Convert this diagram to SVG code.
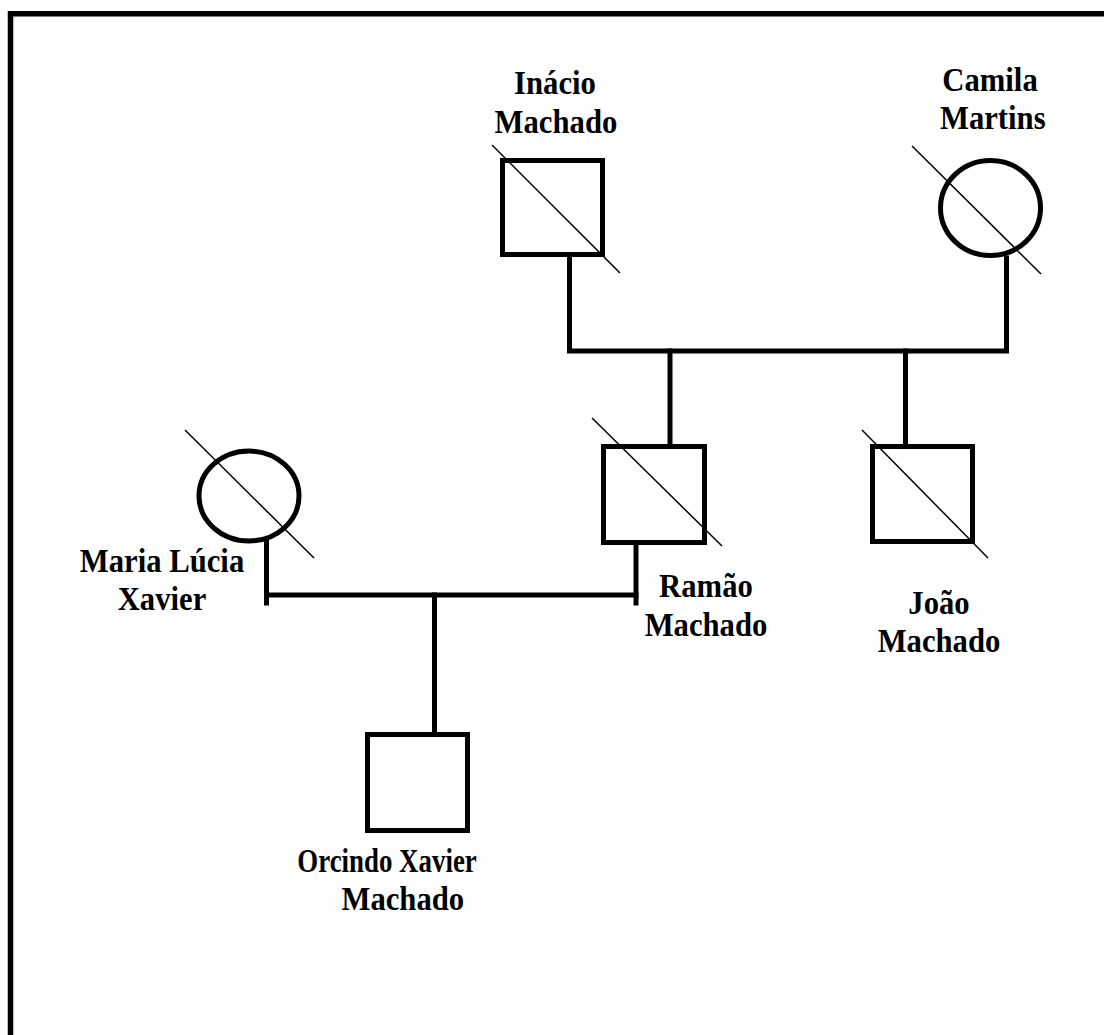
<svg xmlns="http://www.w3.org/2000/svg" width="1104" height="1035" viewBox="0 0 1104 1035">
  <style>
    .sym { fill: #fff; stroke: #000; stroke-width: 5; }
    .slash { stroke: #000; stroke-width: 1.5; }
    .link { fill: none; stroke: #000; stroke-width: 5; stroke-linecap: square; }
    .label { font-family: "Liberation Serif", "Times New Roman", serif; font-weight: bold; font-size: 33px; fill: #000; text-anchor: middle; }
  </style>
  <rect width="1104" height="1035" fill="#fff"/>
  <!-- page frame: left and top edges only -->
  <path d="M10.5 1035 V13.8 H1104" fill="none" stroke="#000" stroke-width="5.5"/>

  <g id="connectors">
    <path class="link" d="M569.5 257 V351 H1006.5 V258"/>
    <path class="link" d="M670 351 V444"/>
    <path class="link" d="M905.5 351 V444"/>
    <path class="link" d="M266.5 542 V603"/>
    <path class="link" d="M636 545 V603"/>
    <path class="link" d="M266.5 595 H636"/>
    <path class="link" d="M434.5 595 V732"/>
  </g>

  <!-- labels use a slightly condensed serif (93% wide), two lines per label -->
  <g id="inacio">
    <rect class="sym" x="502.5" y="160.5" width="100" height="94"/>
    <line class="slash" x1="492" y1="145" x2="620" y2="273"/>
    <text class="label" transform="translate(555 94) scale(0.93 1)"><tspan x="0" y="0">Inácio</tspan><tspan x="1" y="39">Machado</tspan></text>
  </g>

  <g id="camila">
    <ellipse class="sym" cx="990.5" cy="208" rx="50" ry="47.5"/>
    <line class="slash" x1="912" y1="146" x2="1041" y2="274"/>
    <text class="label" transform="translate(990 91) scale(0.93 1)"><tspan x="0" y="0">Camila</tspan><tspan x="3" y="38">Martins</tspan></text>
  </g>

  <g id="maria">
    <ellipse class="sym" cx="249" cy="496" rx="50" ry="45"/>
    <line class="slash" x1="185" y1="430" x2="314" y2="558"/>
    <text class="label" transform="translate(162 572) scale(0.93 1)"><tspan x="0" y="0">Maria Lúcia</tspan><tspan x="0" y="38">Xavier</tspan></text>
  </g>

  <g id="ramao">
    <rect class="sym" x="603.5" y="446.5" width="101" height="96"/>
    <line class="slash" x1="592" y1="418" x2="722" y2="546"/>
    <text class="label" transform="translate(706 597) scale(0.93 1)"><tspan x="0" y="0">Ramão</tspan><tspan x="0" y="39">Machado</tspan></text>
  </g>

  <g id="joao">
    <rect class="sym" x="872.5" y="446.5" width="100" height="95"/>
    <line class="slash" x1="862" y1="430" x2="988" y2="558"/>
    <text class="label" transform="translate(939 614) scale(0.93 1)"><tspan x="0" y="0">João</tspan><tspan x="0" y="38">Machado</tspan></text>
  </g>

  <g id="orcindo">
    <rect class="sym" x="367.5" y="734.5" width="100" height="96"/>
    <text class="label" transform="translate(387 872) scale(0.93 1)"><tspan x="0" y="0" textLength="193" lengthAdjust="spacingAndGlyphs">Orcindo Xavier</tspan><tspan x="17" y="38">Machado</tspan></text>
  </g>
</svg>
